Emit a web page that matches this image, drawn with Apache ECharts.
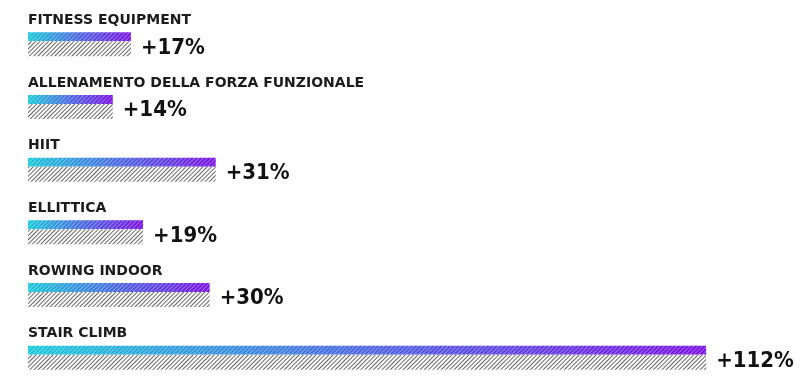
<!DOCTYPE html>
<html><head><meta charset="utf-8">
<script src="https://cdn.jsdelivr.net/npm/echarts@6/dist/echarts.min.js"></script>
<style>html,body{margin:0;padding:0;background:#fff}#c{width:800px;height:389px}</style>
</head><body><div id="c"></div>
<script>
const categories = ['FITNESS EQUIPMENT','ALLENAMENTO DELLA FORZA FUNZIONALE','HIIT','ELLITTICA','ROWING INDOOR','STAIR CLIMB'];
const growth = [17, 14, 31, 19, 30, 112];
const valueLabels = ['+17%','+14%','+31%','+19%','+30%','+112%'];

const chart = echarts.init(document.getElementById('c'));
const grad = new echarts.graphic.LinearGradient(0,0,1,0,[{offset:0,color:'#17c9d8'},{offset:0.5,color:'#4a63e0'},{offset:1,color:'#7a0fe3'}]);
chart.setOption({
  animation:false,
  grid:{left:28,right:0,top:13,height:379},
  xAxis:{type:'value',min:0,max:127.5,show:false},
  yAxis:{type:'category',data:categories,inverse:true,show:false},
  series:[
    {type:'bar',data:growth,barWidth:9,barGap:'0%',
     itemStyle:{color:grad,decal:{symbol:'rect',symbolSize:1,dashArrayX:[1,0],dashArrayY:[1,2],rotation:-Math.PI/4,color:'rgba(255,255,255,0.35)'}},
     label:{show:true,position:[0,-12],verticalAlign:'middle',align:'left',
       formatter:p=>categories[p.dataIndex],fontFamily:'DejaVu Sans',fontWeight:'bold',fontSize:14,color:'#1c1c1c'}},
    {type:'bar',data:growth,barWidth:15,barGap:'0%',
     itemStyle:{color:'#fff',decal:{symbol:'rect',symbolSize:1,dashArrayX:[1,0],dashArrayY:[1,2],rotation:-Math.PI/4,color:'#666'}},
     label:{show:true,position:'right',distance:10,offset:[0,-1],
       formatter:p=>valueLabels[p.dataIndex],fontFamily:'DejaVu Sans Condensed',fontWeight:'bold',fontSize:22,color:'#111'}}
  ]
});
</script></body></html>
